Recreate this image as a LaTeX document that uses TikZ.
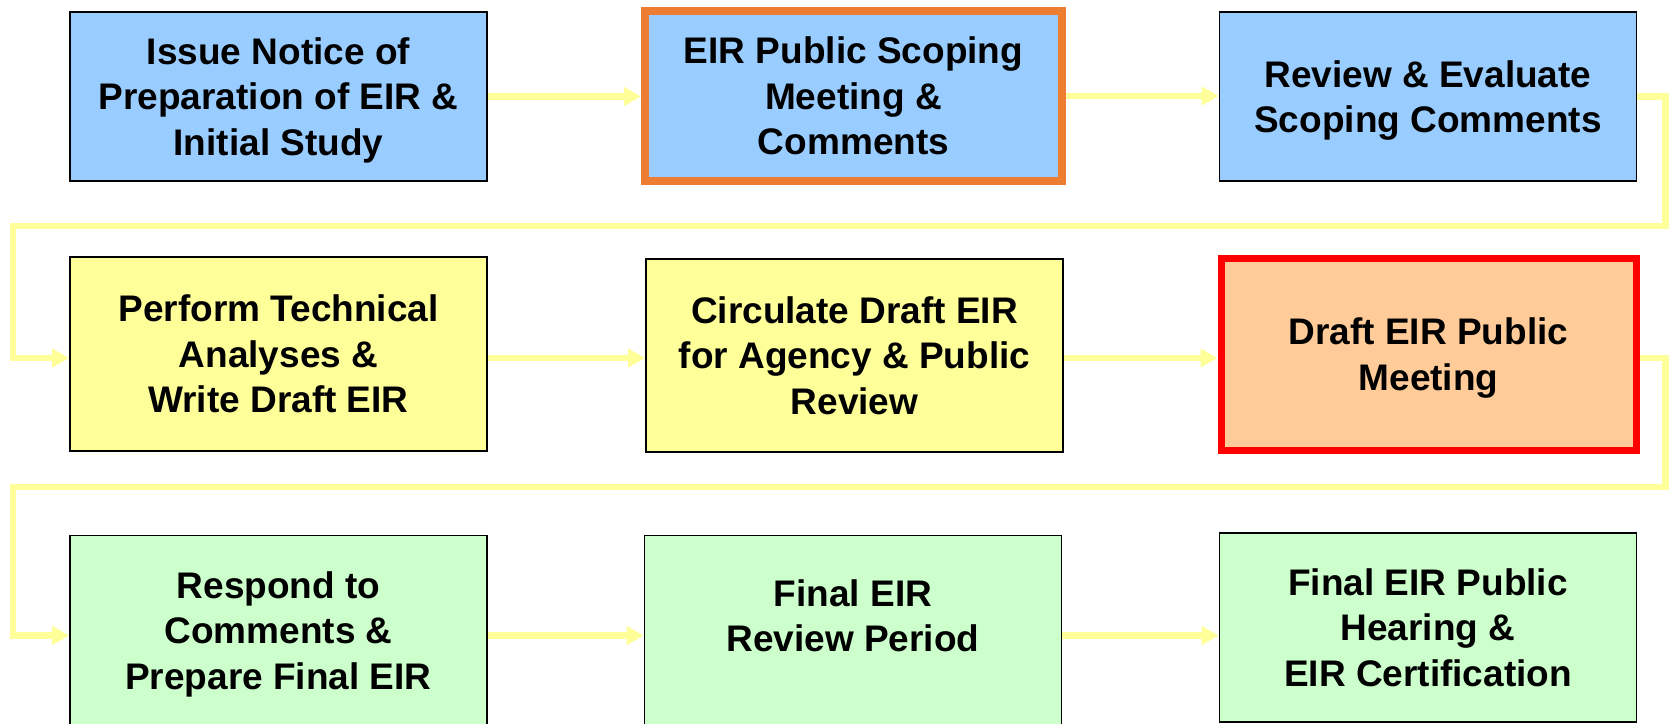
\documentclass[tikz,border=0pt]{standalone}
\usepackage{fontspec}
\setmainfont{Liberation Sans}
\usetikzlibrary{arrows.meta}
\definecolor{eirblue}{HTML}{99CCFF}
\definecolor{eiryellow}{HTML}{FFFF99}
\definecolor{eirgreen}{HTML}{CCFFCC}
\definecolor{eirpeach}{HTML}{FFCC99}
\definecolor{eirorange}{HTML}{ED7D31}
\definecolor{eirarrow}{HTML}{FFFF99}
\tikzset{
  eirfont/.style={font=\bfseries\fontsize{37}{45.5}\selectfont},
  eirbox/.style={draw=black, line width=1.6pt, minimum width=417pt, align=center,
    eirfont, inner sep=0pt, text depth=-5pt},
  flow/.style={draw=eirarrow, line width=6.5pt, -{Triangle[length=17pt,width=18pt]}}
}
\begin{document}
\begin{tikzpicture}[x=1pt,y=-1pt]
\useasboundingbox (0,0) rectangle (1669,723);
% row 1
\node[eirbox, fill=eirblue, minimum height=169pt] (a) at (278.5,96.5)
  {Issue Notice of\\Preparation of EIR \&\\Initial Study};
\node[eirbox, fill=eirblue, draw=eirorange, line width=8pt, minimum height=170pt] (b) at (853.5,96)
  {EIR Public Scoping\\Meeting \&\\Comments};
\node[eirbox, fill=eirblue, minimum height=169pt] (c) at (1428,96.5)
  {Review \& Evaluate\\Scoping Comments};
% row 2
\node[eirbox, fill=eiryellow, minimum height=194pt] (d) at (278.5,354)
  {Perform Technical\\Analyses \&\\Write Draft EIR};
\node[eirbox, fill=eiryellow, minimum height=193pt] (e) at (854.5,355.5)
  {Circulate Draft EIR\\for Agency \& Public\\Review};
\node[eirbox, fill=eirpeach, draw=red, line width=7pt, minimum width=415pt, minimum height=192pt] (f) at (1428.5,354)
  {Draft EIR Public\\Meeting};
% row 3
\node[eirbox, fill=eirgreen, minimum height=190pt] (g) at (278.5,630.5)
  {Respond to\\Comments \&\\Prepare Final EIR};
\node[eirbox, fill=eirgreen, minimum height=190pt,
  label={[eirfont, align=center, yshift=14.5pt]center:Final EIR\\Review Period}] (h) at (853,630.5) {};
\node[eirbox, fill=eirgreen, minimum height=189pt] (i) at (1428,627.5)
  {Final EIR Public\\Hearing \&\\EIR Certification};
% connectors
\draw[flow] (a.east) -- (a.east -| b.west);
\draw[flow] (b.east) -- (b.east -| c.west);
\draw[flow] (c.east) -- ++(28,0) |- (13,226) |- ([yshift=-4pt]d.west);
\draw[flow] ([yshift=-4pt]d.east) -- ([yshift=-4pt]d.east -| e.west);
\draw[flow] ([yshift=-4pt]d.east -| e.east) -- ([yshift=-4pt]d.east -| f.west);
\draw[flow] ([yshift=-4pt]f.east) -- ++(26,0) |- (13,487) |- ([yshift=-5pt]g.west);
\draw[flow] ([yshift=-5pt]g.east) -- ([yshift=-5pt]g.east -| h.west);
\draw[flow] ([yshift=-5pt]g.east -| h.east) -- ([yshift=-5pt]g.east -| i.west);
\end{tikzpicture}
\end{document}
